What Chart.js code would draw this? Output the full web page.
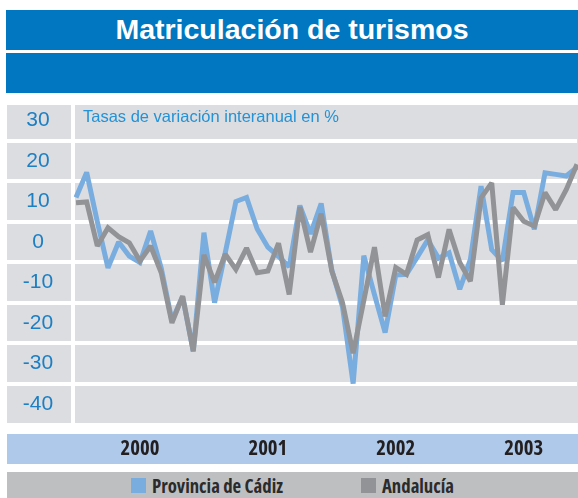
<!DOCTYPE html>
<html lang="es">
<head>
<meta charset="utf-8">
<title>Matriculación de turismos</title>
<script src="https://cdn.jsdelivr.net/npm/chart.js@4.4.0/dist/chart.umd.min.js"></script>
<style>
html,body{margin:0;padding:0;background:#fff;}
#wrap{position:relative;width:578px;height:498px;overflow:hidden;font-family:"Liberation Sans",Arial,sans-serif;}
#c{position:absolute;left:0;top:0;}
.band{position:absolute;left:6px;width:572px;height:40px;background:#0077c0;}
#title{top:10px;color:#fff;font-weight:bold;font-size:28.5px;line-height:38px;text-align:center;}
#band2{top:53px;}
#sub{position:absolute;left:83px;top:106px;font-size:16.5px;line-height:20px;color:#2392d6;white-space:nowrap;}
#legend{position:absolute;left:7px;top:472px;width:571px;height:26px;background:#bebfc1;display:flex;justify-content:center;align-items:center;gap:78px;}
.item{display:flex;align-items:center;color:#2b2b2b;white-space:nowrap;}
.sw{width:15px;height:15px;margin-right:6px;flex:none;}
</style>
</head>
<body>
<div id="wrap">
  <canvas id="c" width="578" height="498"></canvas>
  <div id="title" class="band">Matriculación de turismos</div>
  <div id="band2" class="band"></div>
  <div id="sub">Tasas de variación interanual en %</div>
  <div id="legend"></div>
</div>
<script>
const monthNames = ['Ene','Feb','Mar','Abr','May','Jun','Jul','Ago','Sep','Oct','Nov','Dic'];
const years = ['2000','2001','2002','2003'];
const categories = [];
years.forEach(y => monthNames.forEach(m => categories.push(m + ' ' + y)));

const seriesNames = ['Provincia de Cádiz', 'Andalucía'];
const cadiz = [11, 17.2, 5, -6.4, 0, -3.5, -5.1, 2.7, -6.5, -19.5, -13.5, -27,
  2.3, -15, -2.7, 10, 11, 3.2, -1.3, -3.6, -6.1, 9, 2, 9.5,
  -7, -16, -35, -3.4, -13, -22.4, -8.2, -8, -3.8, 0.5, -4, -2.7,
  -11.7, -4.3, 13.8, -1.9, -4.7, 12.2, 12.2, 3.1, 17.1, 16.7, 16.3, 18.5];
const andalucia = [9.7, 9.9, -1, 3.5, 1.3, -0.2, -4.7, -1, -7.6, -20, -13.4, -27,
  -3.2, -10, -3, -6.8, -1.5, -7.6, -7.2, -0.3, -13, 8.6, -2.5, 7,
  -7.2, -15, -27.5, -14.5, -1.3, -18.4, -6.3, -8, 0.5, 1.8, -8.8, 3.1,
  -5.1, -9.7, 10.9, 14.6, -15.5, 8.5, 5.1, 3.9, 12.2, 8, 13, 19.2];
const yTicks = [-40, -30, -20, -10, 0, 10, 20, 30];

const colors = ['#7aaddf', '#929396'];

const mctx = document.createElement('canvas').getContext('2d');
function measure(font, text) { mctx.font = font; return mctx.measureText(text).width; }

// pick a condensed bold face if one is available, and size it to the reference width
function condensedFont(text, targetW, maxSize) {
  const cands = ['"Noto Sans"', '"Open Sans"', '"DejaVu Sans"'];
  let best = null;
  for (const fam of cands) {
    const wn = measure('bold ' + maxSize + 'px ' + fam, text);
    const wc = measure('condensed bold ' + maxSize + 'px ' + fam, text);
    if (wc < wn * 0.92) { best = {weight: 'condensed bold', family: fam, w: wc}; break; }
  }
  if (!best) {
    best = {weight: 'bold', family: '"Liberation Sans", Arial, sans-serif',
            w: measure('bold ' + maxSize + 'px "Liberation Sans"', text)};
  }
  best.size = Math.min(maxSize, +(maxSize * targetW / best.w).toFixed(2));
  return best;
}

const yFont = {family: '"Liberation Sans", Arial, sans-serif', size: 21};
const xf = condensedFont('2000', 39, 21);
const xFont = {family: xf.family, size: xf.size, weight: xf.weight};
const lf = condensedFont(seriesNames[0], 131, 19);

mctx.font = yFont.size + 'px ' + yFont.family;
const widest = Math.max(...yTicks.map(v => mctx.measureText(String(v)).width));

const bgPlugin = {
  id: 'bg',
  beforeDraw(chart) {
    const {ctx, chartArea: a, scales: {x, y}} = chart;
    ctx.save();
    ctx.fillStyle = '#dcdde0';
    ctx.fillRect(a.left - 1, a.top, a.right - a.left + 2, a.bottom - a.top);
    ctx.fillRect(y.left, a.top, a.left - 5 - y.left, a.bottom - a.top);
    ctx.fillStyle = '#aec9e9';
    ctx.fillRect(y.left, x.top + 11, chart.width - y.left, 30);
    ctx.restore();
  },
  beforeDatasetsDraw(chart) { chart.ctx.miterLimit = 2; },
  afterDatasetsDraw(chart) { chart.ctx.miterLimit = 10; }
};

const chart = new Chart(document.getElementById('c'), {
  type: 'line',
  data: {
    labels: categories,
    datasets: [
      {label: seriesNames[0], data: cadiz, borderColor: colors[0], backgroundColor: colors[0], order: 2},
      {label: seriesNames[1], data: andalucia, borderColor: colors[1], backgroundColor: colors[1], order: 1}
    ]
  },
  options: {
    responsive: false,
    animation: false,
    devicePixelRatio: 1,
    layout: {padding: {top: 105, left: 7, right: 1, bottom: 32}},
    plugins: {legend: {display: false}, tooltip: {enabled: false}},
    elements: {
      point: {radius: 0},
      line: {tension: 0, borderWidth: 5, borderJoinStyle: 'miter', borderCapStyle: 'butt', fill: false}
    },
    scales: {
      x: {
        type: 'category',
        offset: false,
        grid: {display: false, drawTicks: false},
        border: {display: false},
        afterFit(s) { s.height = 43; },
        afterBuildTicks(s) { s.ticks = s.ticks.filter(t => categories[t.value].startsWith('Jul')); },
        ticks: {
          autoSkip: false, maxRotation: 0, minRotation: 0, padding: 14,
          color: '#231f20', font: xFont,
          callback(v) { return categories[v].slice(-4); }
        }
      },
      y: {
        min: -44.75,
        max: 33.85,
        afterFit(s) { s.width = 69; },
        afterBuildTicks(s) { s.ticks = yTicks.map(v => ({value: v})); },
        grid: {offset: true, color: '#ffffff', lineWidth: 4, drawTicks: true, tickLength: 69, tickColor: '#ffffff', tickWidth: 4},
        border: {display: false},
        ticks: {crossAlign: 'center', padding: -31 - widest / 2, color: '#1c7fc4', font: yFont}
      }
    }
  },
  plugins: [bgPlugin]
});

const legend = document.getElementById('legend');
chart.data.datasets.forEach(ds => {
  const item = document.createElement('div');
  item.className = 'item';
  item.style.font = lf.weight + ' ' + lf.size + 'px ' + lf.family;
  const sw = document.createElement('span');
  sw.className = 'sw';
  sw.style.background = ds.borderColor;
  const tx = document.createElement('span');
  tx.textContent = ds.label;
  item.appendChild(sw); item.appendChild(tx);
  legend.appendChild(item);
});
</script>
</body>
</html>
